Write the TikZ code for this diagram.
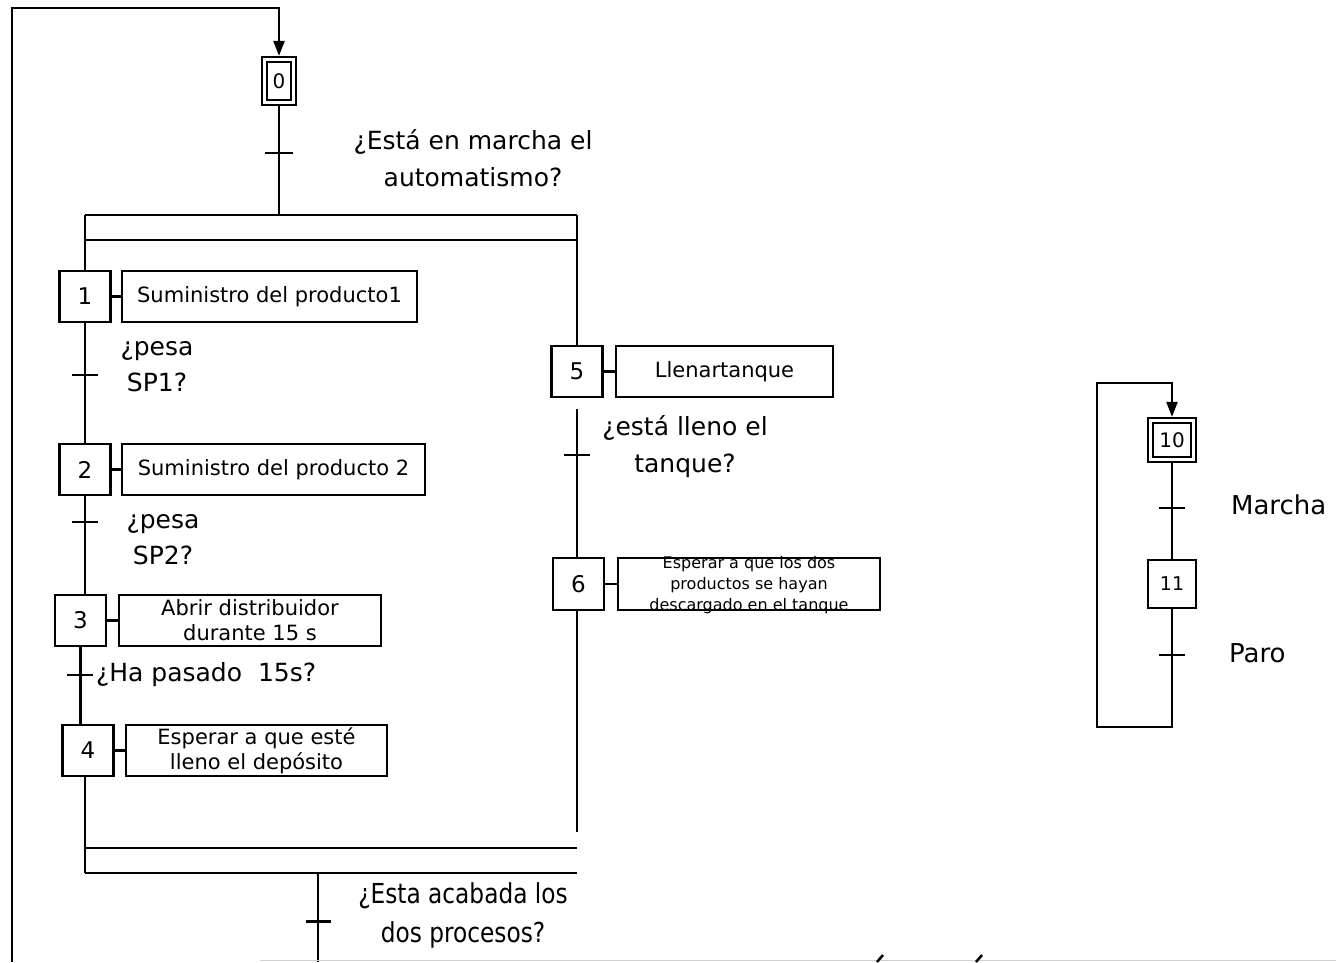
\documentclass[tikz,border=0pt]{standalone}
\usepackage{fontspec}
\setmainfont{DejaVu Sans}
\usetikzlibrary{arrows.meta,calc}

\tikzset{
  pics/trans/.style={code={\draw (-#1,0) -- (#1,0);}},
  pics/trans/.default=13,
}

\begin{document}
\begin{tikzpicture}[x=1pt,y=-1pt,line width=2.2pt,
  every node/.style={inner sep=0pt},
  stepbox/.style={draw, minimum width=51pt, minimum height=51pt,
    font=\fontsize{23}{27}\selectfont},
  initstep/.style={draw, double, double distance=2.6pt,
    font=\fontsize{20}{24}\selectfont},
  actbox/.style={draw, minimum height=51pt, align=center,
    font=\fontsize{21}{25}\selectfont},
  cond/.style={align=center, font=\fontsize{25}{37}\selectfont},
  flow/.style={-{Triangle[length=15pt,width=11pt]}, shorten >=2.5pt},
]
\useasboundingbox (0,0) rectangle (1336,962);

% ---------------- main sequence ----------------
\node[initstep, minimum width=29pt, minimum height=43pt] (s0) at (279,81) {0};

% steps of the left branch
\node[stepbox] (s1) at (85,296.5) {1};
\node[actbox, minimum width=295pt] (a1) at (269.5,296.5) {Suministro del producto1};
\node[stepbox] (s2) at (85,469.5) {2};
\node[actbox, minimum width=303pt] (a2) at (273.5,469.5) {Suministro del producto 2};
\node[stepbox] (s3) at (80.5,620.5) {3};
\node[actbox, minimum width=262pt] (a3) at (250,620.5) {Abrir distribuidor\\durante 15 s};
\node[stepbox] (s4) at (88,750.5) {4};
\node[actbox, minimum width=261pt] (a4) at (256.5,750.5) {Esperar a que esté\\lleno el depósito};

% steps of the right branch
\node[stepbox] (s5) at (577,371.5) {5};
\node[actbox, minimum width=217pt] (a5) at (724.5,371.5) {Llenartanque};
\node[stepbox, minimum height=52pt] (s6) at (578.5,584) {6};
\node[draw, minimum width=262pt, minimum height=52pt] (a6) at (749,584) {};
\node[align=center, font=\fontsize{16}{21}\selectfont] (a6t) at (749,585)
  {Esperar a que los dos\\productos se hayan\\descargado en el tanque};

% step to action links
\foreach \s/\a in {s1/a1,s2/a2,s3/a3,s4/a4,s5/a5,s6/a6}
  \draw (\s.east) -- (\a.west);

% simultaneous divergence / convergence bars
\coordinate (dl1) at (85,215);  \coordinate (dr1) at (577,215);
\coordinate (dl2) at (85,240);  \coordinate (dr2) at (577,240);
\coordinate (cl1) at (85,848);  \coordinate (cr1) at (577,848);
\coordinate (cl2) at (85,873);  \coordinate (cr2) at (577,873);
\coordinate (rend) at (577,832);
\coordinate (tb) at (318,873);
\coordinate (tbot) at (318,962);

\draw (dl1) -- (dr1);
\draw (dl2) -- (dr2);
\draw (cl1) -- (cr1);
\draw (cl2) -- (cr2);

% connectors
\draw[shorten <=2.5pt] (s0.south) -- (s0.south |- dl1);
\draw (dl1) -- (s1.north);
\draw (dr1) -- (s5.north);
\draw (s1.south) -- (s2.north);
\draw (s2.south) -- (s2.south |- s3.north);
\draw (s3.south) -- (s3.south |- s4.north);
\draw (s4.south -| cl2) -- (cl2);
\draw ([yshift=-11pt]s5.south) -- (s5.south |- s6.north);
\draw (s6.south -| rend) -- (rend);
\draw (tb) -- (tbot);

% return loop to the initial step
\coordinate (lb) at (12,962);
\coordinate (lt) at (12,8);
\draw[flow] (lb) -- (lt) -| (s0.north);

% transitions
\pic at (279,153) {trans=14};
\pic at (85,375) {trans};
\pic at (85,522) {trans};
\pic at (80,675) {trans};
\pic at (577,455) {trans};
\pic[line width=3pt] at (318,921) {trans=12.5};

% receptivities
\node[cond] (c0) at (473,158.5) {¿Está en marcha el\\automatismo?};
\node[cond, font=\fontsize{25}{36}\selectfont] (c1) at (157,367) {¿pesa\\SP1?};
\node[cond, font=\fontsize{25}{36}\selectfont] (c2) at (163,540) {¿pesa\\SP2?};
\node[cond, anchor=west] (c3) at (95,675) {¿Ha pasado~~15s?};
\node[cond] (c5) at (685,446.5) {¿está lleno el\\tanque?};
\node[cond, font=\fontsize{25}{39}\selectfont] (cb) at (463,915.5)
  {\scalebox{0.93}[1.1]{¿Esta acabada los}\\\scalebox{0.93}[1.1]{dos procesos?}};

% ---------------- start / stop sequence ----------------
\node[initstep, minimum width=43pt, minimum height=39pt] (s10) at (1172,440) {10};
\node[stepbox, minimum width=48pt, minimum height=48pt,
  font=\fontsize{19}{23}\selectfont] (s11) at (1172,584) {11};

\draw[shorten <=2.5pt] (s10.south) -- (s11.north);
\coordinate (r10l) at (1097,727);
\coordinate (r10t) at (1097,383);
\draw[flow] (s11.south) |- (r10l) -- (r10t) -| (s10.north);

\pic at (1172,508) {trans};
\pic at (1172,655) {trans};
\node[cond, anchor=west, font=\fontsize{26}{30}\selectfont] (m) at (1230,505) {Marcha};
\node[cond, anchor=west, font=\fontsize{26}{30}\selectfont] (p) at (1228,653) {Paro};

% page edge rule with the tops of two accented capitals below it
\draw[gray!35, line width=1.5pt] (260,960.5) -- (1336,960.5);
\draw[line width=2.5pt] (877,962) -- (883,955);
\draw[line width=2.5pt] (976,962) -- (982,955);
\end{tikzpicture}
\end{document}
